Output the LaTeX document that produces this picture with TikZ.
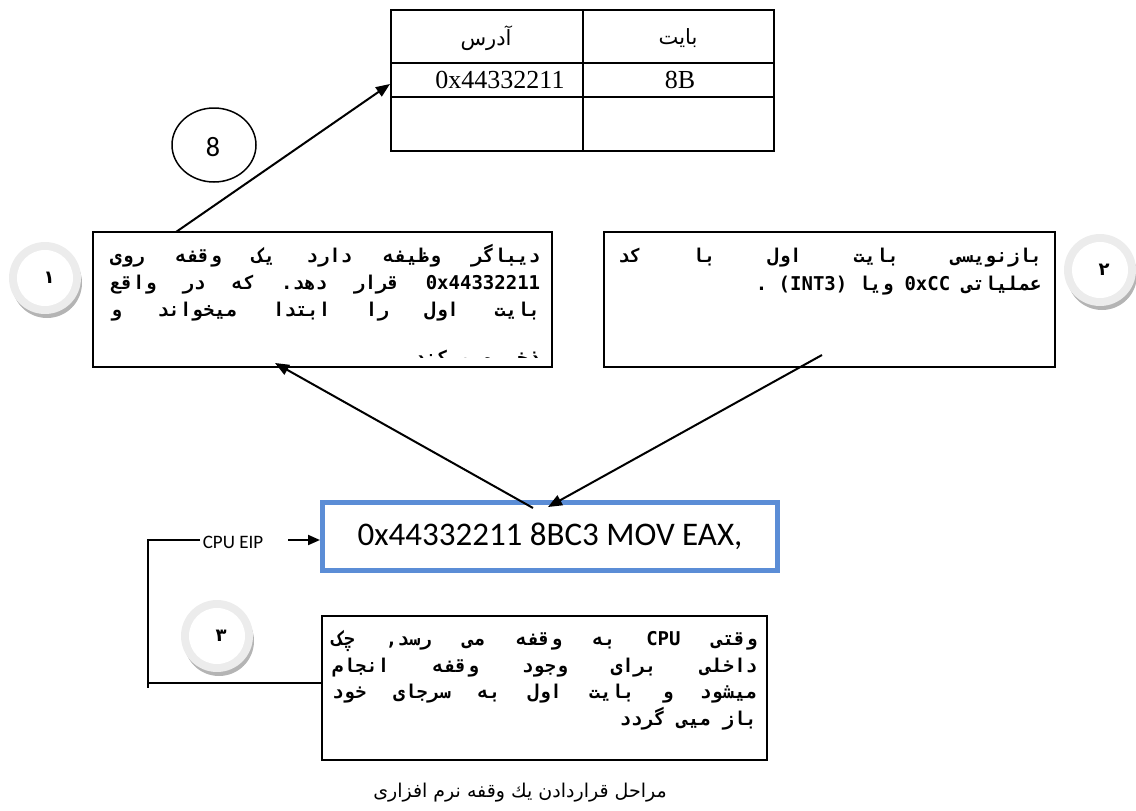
\documentclass[tikz,border=0pt]{standalone}
\usepackage{fontspec}
\setmainfont{Liberation Serif}
\newfontfamily\arab[Script=Arabic]{DejaVu Sans}
\newfontfamily\arabmono[Script=Arabic]{DejaVu Sans Mono}
\newfontfamily\calib{Carlito}
\TeXXeTstate=1
\usetikzlibrary{arrows.meta,calc}
\definecolor{mainblue}{RGB}{91,141,214}
\definecolor{ringgray}{RGB}{236,236,236}
\definecolor{shadowgray}{RGB}{180,180,180}
\newcommand{\jl}[2]{\makebox[#1pt][s]{#2}}
\newcommand{\rl}[1]{\beginR #1\endR}
\newcommand{\w}[1]{\hbox{#1}}
\tikzset{
  textbox/.style={draw,line width=1.5pt,inner sep=0pt},
  conn/.style={line width=2pt,-{Triangle[length=14pt,width=11pt]}},
  boxtext/.style={anchor=base west,inner sep=0pt,font=\arabmono\bfseries\fontsize{19}{21}\selectfont},
  lastline/.style={boxtext,anchor=base east},
  tabletext/.style={inner sep=0pt,font=\fontsize{26}{28}\selectfont},
  headtext/.style={inner sep=0pt,font=\arab\fontsize{21}{24}\selectfont},
  numtext/.style={inner sep=0pt,font=\arab\bfseries\fontsize{18}{20}\selectfont},
}
\newcommand{\stepcircle}[3]{%
  \fill[shadowgray] ($(#1)+(2,5)$) circle (35);
  \fill[ringgray] (#1) circle (36);
  \fill[white] (#1) circle (28);
  \node[numtext] (#2) at ($(#1)+(4,0)$) {#3};
}
\begin{document}
\begin{tikzpicture}[x=1pt,y=-1pt]
\useasboundingbox (0,0) rectangle (1136,811);

% table
\draw[line width=1.5pt] (391,10) rectangle (774,151);
\draw[line width=1.5pt] (391,63) -- (774,63) (391,97) -- (774,97) (583,10) -- (583,151);
\node[headtext] (hA) at (486,38) {آدرس};
\node[headtext] (hB) at (678,38) {بایت};
\node[tabletext] (vA) at (500,80) {0x44332211};
\node[tabletext] (vB) at (680,80) {8B};
\coordinate (tbl) at (390,84);

% ellipse 8
\draw[line width=1.5pt] (214,145) ellipse [x radius=42, y radius=37];
\node[inner sep=0pt,font=\calib\fontsize{28}{30}\selectfont] (eight) at (213,147) {8};

% box 1
\node[textbox,minimum width=459pt,minimum height=135pt] (box1) at (322.5,299.5) {};
\node[boxtext] (b1l1) at (110,262) {\jl{430}{\w{روی} \w{وقفه} \w{یک} \w{دارد} \w{وظیفه} \w{دیباگر}}};
\node[boxtext] (b1l2) at (110,289) {\jl{430}{\w{واقع} \w{در} \w{که} \w{دهد.} \w{قرار} \w{0x44332211}}};
\node[boxtext] (b1l3) at (110,316) {\jl{430}{\w{و} \w{میخواند} \w{ابتدا} \w{را} \w{اول} \w{بایت}}};
\begin{scope}
\clip (100,340) rectangle (545,357);
\node[lastline] (b1l4) at (540,364) {\w{میکند} \w{ذخیره}};
\end{scope}

% box 2
\node[textbox,minimum width=451pt,minimum height=135pt] (box2) at (829.5,299.5) {};
\node[boxtext] (b2l1) at (618,262) {\jl{424}{\w{کد} \w{با} \w{اول} \w{بایت} \w{بازنویسی}}};
\node[lastline] (b2l2) at (1042,290) {\w{.} \w{(INT3)} \w{ویا} \w{0xCC} \w{عملیاتی}};

% main box
\node[draw=mainblue,line width=5pt,minimum width=455pt,minimum height=68pt,inner sep=0pt,font=\calib\fontsize{33}{36}\selectfont] (main) at (550,536.5) {0x44332211 8BC3 MOV EAX,};

% CPU EIP
\node[inner sep=0pt,font=\calib\fontsize{19}{21}\selectfont] (eip) at (233,542) {CPU EIP};
\coordinate (eipS) at (288,540);
\draw[line width=2pt,-{Triangle[length=12pt,width=10pt]}] (eipS) -- (main.west |- eipS);

% box 3
\node[textbox,minimum width=445pt,minimum height=144pt] (box3) at (544.5,688) {};
\node[boxtext] (b3l1) at (332,645) {\jl{425}{\w{چک} \w{رسد,} \w{می} \w{وقفه} \w{به} \w{CPU} \w{وقتی}}};
\node[boxtext] (b3l2) at (332,672) {\jl{425}{\w{انجام} \w{وقفه} \w{وجود} \w{برای} \w{داخلی}}};
\node[boxtext] (b3l3) at (332,698) {\jl{425}{\w{خود} \w{سرجای} \w{به} \w{اول} \w{بایت} \w{و} \w{میشود}}};
\node[lastline] (b3l4) at (757,725) {\w{گردد} \w{میی} \w{باز}};

% bracket
\coordinate (br1) at (200,540);
\coordinate (br2) at (148,540);
\coordinate (br3) at (148,688);
\coordinate (br4) at (148,683);
\draw[line width=2pt] (br1) -- (br2) -- (br3);
\draw[line width=1.5pt] (br4) -- (box3.west |- br4);

% circles
\stepcircle{45,278}{c1}{١}
\stepcircle{1100,270}{c2}{٢}
\stepcircle{217,636}{c3}{٣}

% connectors
\coordinate (a1s) at (176,232);
\draw[conn] (a1s) -- (tbl);
\coordinate (a2s) at (533,508);
\coordinate (a2e) at (275,363);
\draw[conn] (a2s) -- (a2e);
\coordinate (a3s) at (822,355);
\coordinate (a3e) at (548,507);
\draw[conn] (a3s) -- (a3e);

% caption
\node[inner sep=0pt,font=\arab\fontsize{19}{22}\selectfont] (cap) at (520,793) {\rl{مراحل قراردادن یك وقفه نرم افزاری}};
\end{tikzpicture}
\end{document}
